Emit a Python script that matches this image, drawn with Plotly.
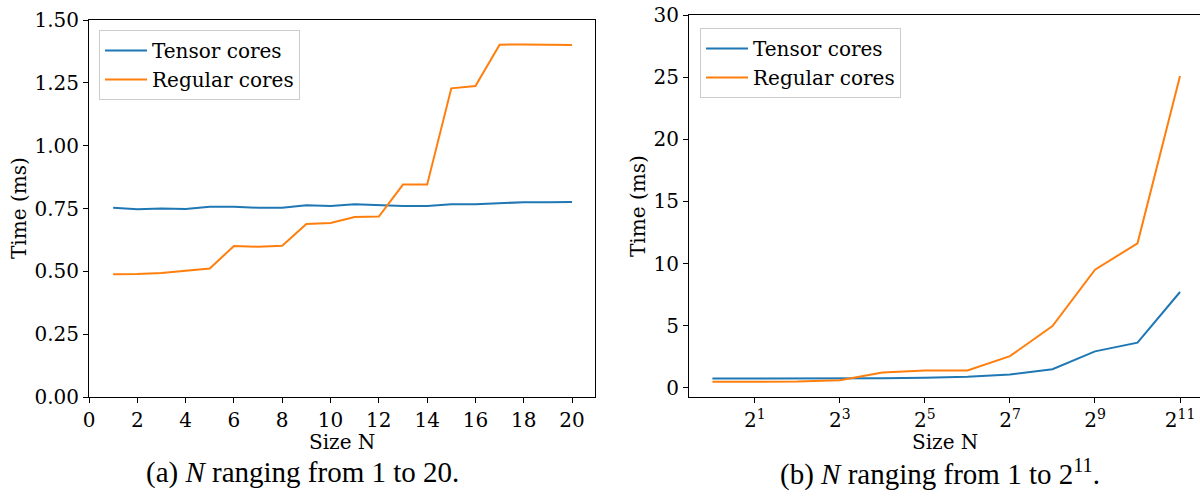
import plotly.graph_objects as go

# Left panel: N = 1..20
n_small = list(range(1, 21))
tensor_small = [0.753, 0.747, 0.750, 0.748, 0.757, 0.757, 0.753, 0.753, 0.763, 0.760,
                0.767, 0.763, 0.760, 0.760, 0.767, 0.767, 0.771, 0.775, 0.775, 0.776]
regular_small = [0.488, 0.489, 0.493, 0.501, 0.511, 0.601, 0.598, 0.602, 0.688, 0.692,
                 0.716, 0.718, 0.845, 0.845, 1.228, 1.237, 1.402, 1.403, 1.403, 1.401]

# Right panel: N = 2^0..2^11
n_large = [2 ** k for k in range(12)]
tensor_large = [0.753, 0.747, 0.748, 0.753, 0.767, 0.80, 0.89, 1.07, 1.50, 2.93, 3.63, 7.71]
regular_large = [0.488, 0.489, 0.501, 0.602, 1.237, 1.40, 1.40, 2.55, 4.97, 9.50, 11.63, 25.10]

left_yticks = [0, 0.25, 0.5, 0.75, 1.0, 1.25, 1.5]
right_xticks = [2, 8, 32, 128, 512, 2048]
right_xticktext = ["2<sup>1</sup>", "2<sup>3</sup>", "2<sup>5</sup>", "2<sup>7</sup>",
                   "2<sup>9</sup>", "2<sup>11</sup>"]

BLUE = "#1f77b4"
ORANGE = "#ff7f0e"
FONT = "DejaVu Serif"
W, H = 1200, 497

fig = go.Figure()
fig.add_trace(go.Scatter(x=n_small, y=tensor_small, mode="lines", name="Tensor cores",
                         line=dict(color=BLUE, width=2), xaxis="x", yaxis="y", legend="legend"))
fig.add_trace(go.Scatter(x=n_small, y=regular_small, mode="lines", name="Regular cores",
                         line=dict(color=ORANGE, width=2), xaxis="x", yaxis="y", legend="legend"))
fig.add_trace(go.Scatter(x=n_large, y=tensor_large, mode="lines", name="Tensor cores",
                         line=dict(color=BLUE, width=2), xaxis="x2", yaxis="y2", legend="legend2"))
fig.add_trace(go.Scatter(x=n_large, y=regular_large, mode="lines", name="Regular cores",
                         line=dict(color=ORANGE, width=2), xaxis="x2", yaxis="y2", legend="legend2"))

axis_common = dict(showgrid=False, zeroline=False, showline=True, linecolor="black",
                   linewidth=1, ticks="outside", ticklen=5, tickcolor="black",
                   automargin=False,
                   tickfont=dict(family=FONT, size=20, color="black"))

yb = (H - 397) / H
fig.update_layout(
    width=W, height=H, margin=dict(l=0, r=0, t=0, b=0),
    paper_bgcolor="white", plot_bgcolor="white",
    font=dict(family=FONT, color="black"),
    xaxis=dict(domain=[89 / W, 595 / W], range=[0, 20.95], tickvals=list(range(0, 21, 2)),
               mirror=True, anchor="y", **axis_common),
    yaxis=dict(domain=[yb, 1 - 20 / H], range=[0, 1.5], tickvals=left_yticks,
               tickformat=".2f", mirror=True, anchor="x", **axis_common),
    xaxis2=dict(domain=[689 / W, 1.0], type="log",
                range=[-0.55 * 0.30103, 11.47 * 0.30103],
                tickvals=right_xticks, ticktext=right_xticktext, mirror=True, anchor="y2",
                **axis_common),
    yaxis2=dict(domain=[yb, 1 - 15 / H], range=[-0.74, 30], dtick=5, mirror=False,
                anchor="x2", **axis_common),
    legend=dict(x=99 / W, y=1 - 30 / H, xanchor="left", yanchor="top",
                bgcolor="rgba(255,255,255,0.8)", bordercolor="#cccccc", borderwidth=1,
                font=dict(family=FONT, size=20), itemwidth=42, tracegroupgap=0),
    legend2=dict(x=700 / W, y=1 - 28 / H, xanchor="left", yanchor="top",
                 bgcolor="rgba(255,255,255,0.8)", bordercolor="#cccccc", borderwidth=1,
                 font=dict(family=FONT, size=20), itemwidth=42, tracegroupgap=0),
    showlegend=True,
)

def label(text, x, y, size=20, family=FONT, angle=0):
    fig.add_annotation(text=text, x=x / W, y=1 - y / H, xref="paper", yref="paper",
                       showarrow=False, xanchor="center", yanchor="middle", textangle=angle,
                       borderpad=0, font=dict(family=family, size=size, color="black"))

# axis titles
label("Size N", 342, 442)
label("Size N", 945, 442)
label("Time (ms)", 19, 208, angle=-90)
label("Time (ms)", 638, 206, angle=-90)

# sub-captions
label("(a) <i>N</i> ranging from 1 to 20.", 302, 472, size=29, family="Liberation Serif")
label("(b) <i>N</i> ranging from 1 to 2<sup>11</sup>.", 940, 472, size=29,
      family="Liberation Serif")

fig.write_html("out.html", config={"displayModeBar": False},
               post_script="document.body.style.margin='0';document.body.style.overflow='hidden';")
